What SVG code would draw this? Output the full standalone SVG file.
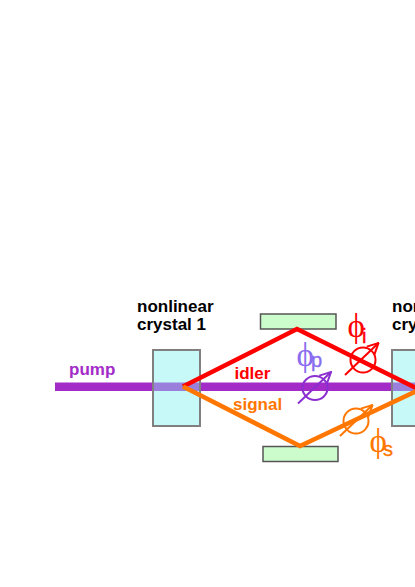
<svg xmlns="http://www.w3.org/2000/svg" width="415" height="587" viewBox="0 0 415 587">
<style>
.t{font-family:"Liberation Sans",Arial,sans-serif;font-weight:700;font-size:17px}
.x{fill:#c8f9f9;stroke:#808080;stroke-width:2}
.b{fill:#9a80dc}
.m{fill:#ccfccc;stroke:#555;stroke-width:1.500}
.g{font-family:"Liberation Serif",serif;font-size:33px}
.s{font-family:"Liberation Sans",Arial,sans-serif;font-size:20px;stroke-width:.4}
.o{fill:none;stroke-width:2}
</style>
<defs>
<marker id="a" markerWidth="13" markerHeight="13" refX="12" refY="6.500" orient="auto" markerUnits="userSpaceOnUse"><path d="M1 1L12 6.500L1 12" fill="none" stroke="context-stroke" stroke-width="2"/></marker>
</defs>
<rect width="415" height="587" fill="#fff"/>
<g id="pump"><rect x="55" y="382.500" width="360" height="8.500" fill="#a32cc8"/><text x="69" y="375" class="t" fill="#a32cc8">pump</text></g>
<g id="crystal1"><rect x="153" y="350" width="47" height="76" class="x"/><rect x="154" y="382.500" width="45" height="8.500" class="b"/><text x="137" y="312" class="t" fill="#000">nonlinear</text><text x="137" y="330" class="t" fill="#000">crystal 1</text></g>
<g id="crystal2"><rect x="392" y="350" width="30" height="76" class="x"/><rect x="393" y="382.500" width="22" height="8.500" class="b"/><text x="392" y="312" class="t" fill="#000">nonlinear</text><text x="392" y="330" class="t" fill="#000">crystal 2</text></g>
<g id="mirror1"><rect x="260.500" y="314" width="75.500" height="15" class="m"/></g>
<g id="mirror2"><rect x="263" y="446.500" width="75" height="15" class="m"/></g>
<g id="connectors" fill="none" stroke-width="4.500">
<path d="M183 386.500L297 329L420 390" stroke="#f00"/>
<path d="M183 386.500L300 446L420 389.500" stroke="#f70"/>
</g>
<g id="idler"><text x="234.500" y="379" class="t" fill="#f00">idler</text></g>
<g id="signal"><text x="233" y="410" class="t" fill="#f70">signal</text></g>
<g id="phase-p"><ellipse cx="315" cy="388" rx="12.500" ry="12" class="o" stroke="#8b2fd0"/><path d="M298 403.500L331 372" class="o" stroke="#8b2fd0" marker-end="url(#a)"/><text x="296.500" y="366" class="g" fill="#8a6cf0">ϕ</text><text x="311" y="367" class="s" fill="#8a6cf0" stroke="#8a6cf0">p</text></g>
<g id="phase-i"><circle cx="363" cy="360" r="12.500" class="o" stroke="#f00"/><path d="M345 375L378.500 343" class="o" stroke="#f00" marker-end="url(#a)"/><text x="347.500" y="337" class="g" fill="#f00">ϕ</text><text x="362" y="343" class="s" fill="#f00" stroke="#f00">i</text></g>
<g id="phase-s"><circle cx="356" cy="421" r="12.500" class="o" stroke="#f70"/><path d="M340 436L372.500 405" class="o" stroke="#f70" marker-end="url(#a)"/><text x="369.500" y="452" class="g" fill="#f70">ϕ</text><text x="383" y="456" class="s" fill="#f70" stroke="#f70">s</text></g>
</svg>
